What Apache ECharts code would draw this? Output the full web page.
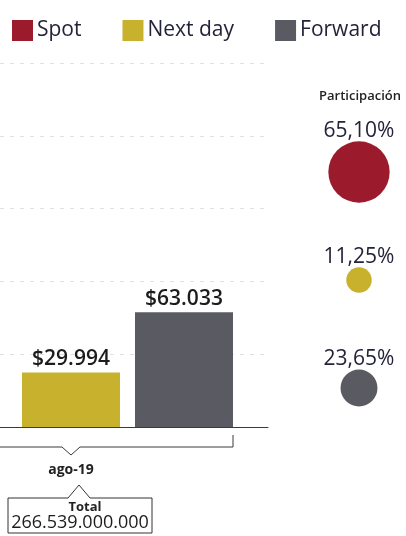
<!DOCTYPE html>
<html>
<head>
<meta charset="utf-8">
<script src="https://cdn.jsdelivr.net/npm/echarts@6/dist/echarts.min.js"></script>
<style>
  html, body { margin: 0; padding: 0; background: #fff; }
  #chart { width: 406px; height: 536px; }
</style>
</head>
<body>
<div id="chart"></div>
<script>
// data (millions of pesos, ago-19)
const categories = ["ago-19"];
const seriesNames = ["Spot", "Next day", "Forward"];
const spotValues = [173512];
const nextDayValues = [29994];
const forwardValues = [63033];
const shareValues = [65.10, 11.25, 23.65];
const totalLabel = "266.539.000.000";
const colors = ["#9b1a2b", "#c7b12d", "#5a5a62"];

const FONT = "Open Sans";
const TEXT = "#23233a";

const chart = echarts.init(document.getElementById("chart"));

/*
 * helpers
 * */
const money = (v) => "$" + String(Math.round(v)).replace(/\B(?=(\d{3})+(?!\d))/g, ".");
const pct = (v) => v.toFixed(2).replace(".", ",") + "%";

// the picture is cut at the left: Spot stays clipped to its grid, the others may overflow it
const barSeries = (name, data, color, visible) => ({
  name: name,
  type: "bar",
  xAxisIndex: 0,
  yAxisIndex: 0,
  data: data,
  barWidth: 98,
  barGap: "15.3%",
  clip: !visible,
  itemStyle: { color: color },
  label: {
    show: visible,
    position: "top",
    distance: 3,
    formatter: (p) => money(p.value),
    fontFamily: FONT,
    fontSize: 21,
    fontWeight: 600,
    color: "#1c1c1c",
  },
});

const option = {
  animation: false,
  backgroundColor: "#fff",
  textStyle: { fontFamily: FONT },
  legend: {
    data: seriesNames,
    left: 7,
    top: 15,
    icon: "rect",
    itemWidth: 21,
    itemHeight: 21,
    itemGap: 41,
    selectedMode: false,
    textStyle: { fontFamily: FONT, fontSize: 21, color: TEXT, padding: [0, 0, 0, -1] },
  },
  grid: [
    // bars
    { left: 8, width: 126, top: 63, bottom: 109 },
    // participation bubbles
    { left: 340, width: 38, top: 118, bottom: 94 },
    // background: baseline and dashed guides across the visible width
    { left: 0, right: 138, top: 63, bottom: 109 },
  ],
  xAxis: [
    {
      type: "category",
      gridIndex: 0,
      data: categories,
      axisLine: { show: false },
      axisTick: { show: false },
      axisLabel: {
        margin: 36,
        fontFamily: FONT,
        fontSize: 14,
        fontWeight: "bold",
        color: "#222",
      },
    },
    {
      type: "category",
      gridIndex: 1,
      data: ["p"],
      show: false,
    },
    {
      type: "value",
      gridIndex: 2,
      min: 0,
      max: 1,
      axisLine: { show: true, lineStyle: { color: "#3a3a3a", width: 1 } },
      axisTick: { show: false },
      axisLabel: { show: false },
      splitLine: { show: false },
    },
  ],
  yAxis: [
    {
      type: "value",
      gridIndex: 0,
      min: 0,
      max: 200000,
      interval: 40000,
      show: false,
      splitLine: { show: false },
    },
    {
      type: "category",
      gridIndex: 1,
      data: seriesNames,
      inverse: true,
      show: false,
    },
    {
      type: "value",
      gridIndex: 2,
      min: 0,
      max: 200000,
      interval: 40000,
      axisLabel: { show: false },
      axisLine: { show: false },
      axisTick: { show: false },
      splitLine: { lineStyle: { color: "#e0e0e6", type: [4, 6], width: 1 } },
    },
  ],
  series: [
    barSeries(seriesNames[0], spotValues, colors[0], false),
    barSeries(seriesNames[1], nextDayValues, colors[1], true),
    barSeries(seriesNames[2], forwardValues, colors[2], true),
    {
      name: "Participación",
      type: "scatter",
      xAxisIndex: 1,
      yAxisIndex: 1,
      data: shareValues.map((v, i) => ({
        value: [0, i, v],
        itemStyle: { color: colors[i], opacity: 1 },
      })),
      symbolSize: (val) => 7.6 * Math.sqrt(val[2]),
      label: {
        show: true,
        position: "top",
        distance: 0,
        formatter: (p) => pct(p.value[2]),
        fontFamily: FONT,
        fontSize: 21,
        color: TEXT,
      },
    },
  ],
};

chart.setOption(option);

/*
 * annotations: bracket under the group, participation title, total box
 * */
const cx = chart.convertToPixel({ xAxisIndex: 0 }, 0);
const base = chart.convertToPixel({ yAxisIndex: 0 }, 0);
const halfGroup = 98 * 1.5 + 15;
const lineY = base + 20;
const boxTop = base + 71;
const boxBottom = base + 106;

chart.setOption({
  graphic: [
    {
      type: "polyline",
      shape: {
        points: [
          [cx - halfGroup, lineY],
          [cx - 9, lineY],
          [cx, lineY + 8],
          [cx + 9, lineY],
          [cx + halfGroup, lineY],
          [cx + halfGroup, base + 8],
        ],
      },
      style: { stroke: "#3a3a3a", lineWidth: 1, fill: null },
    },
    {
      type: "text",
      x: 360,
      y: 96,
      style: {
        text: "Participación",
        fontFamily: FONT,
        fontSize: 13,
        fontWeight: 600,
        fill: "#222",
        align: "center",
        verticalAlign: "middle",
      },
    },
    {
      type: "polygon",
      shape: {
        points: [
          [cx - 63, boxTop],
          [cx - 3, boxTop],
          [cx + 8, boxTop - 13],
          [cx + 19, boxTop],
          [cx + 81, boxTop],
          [cx + 81, boxBottom],
          [cx - 63, boxBottom],
        ],
      },
      style: { stroke: "#333", lineWidth: 1, fill: "#fff" },
    },
    {
      type: "text",
      x: cx + 14,
      y: boxTop + 9,
      style: {
        text: "Total",
        fontFamily: FONT,
        fontSize: 13,
        fontWeight: "bold",
        fill: "#222",
        align: "center",
        verticalAlign: "middle",
      },
    },
    {
      type: "text",
      x: cx + 9,
      y: boxTop + 25,
      style: {
        text: totalLabel,
        fontFamily: FONT,
        fontSize: 18,
        fill: "#1c1c1c",
        align: "center",
        verticalAlign: "middle",
      },
    },
  ],
});
</script>
</body>
</html>
